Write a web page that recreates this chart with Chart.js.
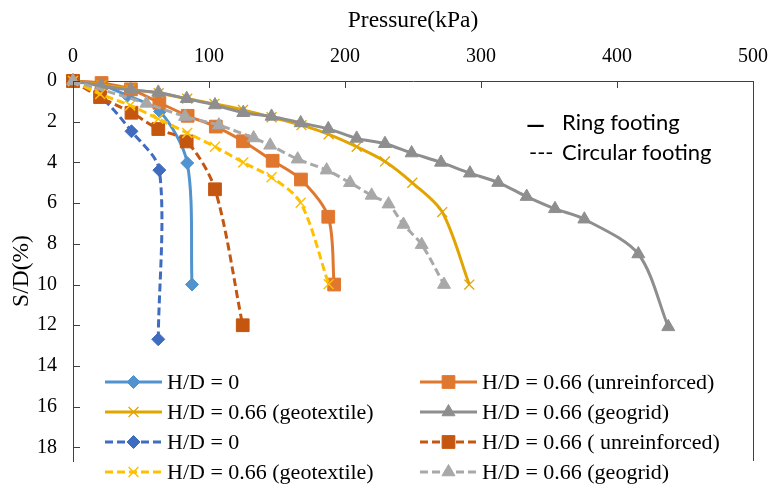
<!DOCTYPE html>
<html>
<head>
<meta charset="utf-8">
<script src="https://cdn.jsdelivr.net/npm/chart.js@4.4.0/dist/chart.umd.min.js"></script>
<style>
  html, body { margin: 0; padding: 0; background: #fff; }
  #wrap { width: 784px; height: 489px; position: relative; }
</style>
</head>
<body>
<div id="wrap"><canvas id="chart"></canvas></div>
<script>
// pressure (kPa) and S/D (%), one pair per curve
const ringH0P = [0, 21, 40, 64, 84, 87.5];
const ringH0S = [0, 0.2, 0.72, 1.5, 4.03, 10];

const ringUnrP = [0, 21, 42.6, 63.5, 84.3, 105, 125, 146.8, 167.6, 187.7, 192];
const ringUnrS = [0, 0.1, 0.41, 1.07, 1.71, 2.24, 2.96, 3.92, 4.84, 6.67, 10];

const ringTexP = [0, 21, 42, 63, 84, 104, 125, 146, 168, 188, 208.6, 229.4, 249.5, 271.5, 291.4];
const ringTexS = [0, 0.2, 0.4, 0.6, 0.87, 1.12, 1.42, 1.78, 2.17, 2.62, 3.23, 3.95, 5.0, 6.44, 10];

const ringGridP = [0, 20.6, 42.6, 62.7, 83.6, 104.4, 125.2, 146, 167.4, 187.7, 208.6, 229.4, 249, 270.6, 291.9, 312.7, 333.6, 354.4, 376, 415.7, 437.7];
const ringGridS = [0, 0.23, 0.44, 0.56, 0.87, 1.18, 1.56, 1.74, 2.06, 2.35, 2.82, 3.08, 3.54, 4.0, 4.53, 4.99, 5.68, 6.28, 6.79, 8.5, 12.08];

const circH0P = [0, 20, 43, 63.5, 62.7];
const circH0S = [0, 0.75, 2.47, 4.38, 12.69];

const circUnrP = [0, 19.9, 43, 62.7, 83.6, 104.4, 124.8];
const circUnrS = [0, 0.79, 1.56, 2.36, 2.97, 5.32, 12.0];

const circTexP = [0, 20, 42, 62.7, 84, 104.4, 125.2, 146, 167.4, 188];
const circTexS = [0, 0.64, 1.2, 1.86, 2.55, 3.23, 4.0, 4.73, 5.98, 9.98];

const circGridP = [0, 54, 82.4, 107.3, 132.8, 145, 165.2, 186.5, 203.7, 219.6, 232, 243, 256.4, 272.8];
const circGridS = [0, 1.1, 1.75, 2.17, 2.8, 3.16, 3.84, 4.38, 5.0, 5.62, 6.05, 7.05, 8.04, 10];

const seriesLabels = [
    'H/D = 0', 'H/D = 0.66 (unreinforced)',
    'H/D = 0.66 (geotextile)', 'H/D = 0.66 (geogrid)',
    'H/D = 0', 'H/D = 0.66 ( unreinforced)',
    'H/D = 0.66 (geotextile)', 'H/D = 0.66 (geogrid)'
];
const xTicks = [0, 100, 200, 300, 400, 500];
const yTicks = [0, 2, 4, 6, 8, 10, 12, 14, 16, 18];

const SERIF = "'Liberation Serif', 'Times New Roman', serif";

function pts(p, s) {
    return p.map((v, i) => ({ x: v, y: s[i] }));
}

function series(i, p, s, color, style, radius, dashed, markerWidth) {
    return {
        label: seriesLabels[i],
        data: pts(p, s),
        borderColor: color,
        backgroundColor: color,
        borderWidth: 3,
        borderDash: dashed ? [8, 4] : [],
        tension: 0.3,
        pointStyle: style,
        pointRadius: radius,
        pointHoverRadius: radius,
        pointBackgroundColor: color,
        pointBorderColor: color,
        pointBorderWidth: markerWidth,
        showLine: true,
        clip: false,
        order: -i
    };
}

const datasets = [
    series(0, ringH0P, ringH0S, '#5093CF', 'rectRot', 6.5, false, 1),
    series(1, ringUnrP, ringUnrS, '#E0772F', 'rect', 9, false, 1),
    series(2, ringTexP, ringTexS, '#E2A400', 'crossRot', 7, false, 1.3),
    series(3, ringGridP, ringGridS, '#8E8E8E', 'triangle', 7.5, false, 1),
    series(4, circH0P, circH0S, '#3F6CBF', 'rectRot', 6.5, true, 1),
    series(5, circUnrP, circUnrS, '#C5560F', 'rect', 9, true, 1),
    series(6, circTexP, circTexS, '#FFC000', 'crossRot', 7, true, 1.5),
    series(7, circGridP, circGridS, '#A8A8A8', 'triangle', 7.5, true, 1)
];

// inward tick marks, right frame, two-column legend and footing note
const extras = {
    id: 'extras',
    afterDraw(chart) {
        const { ctx, chartArea: a, scales: { x, y } } = chart;
        ctx.save();
        ctx.strokeStyle = '#404040';
        ctx.lineWidth = 1;
        ctx.setLineDash([]);
        ctx.beginPath();
        ctx.moveTo(a.right + 0.5, a.top);
        ctx.lineTo(a.right + 0.5, a.bottom);
        xTicks.forEach(v => {
            const px = Math.round(x.getPixelForValue(v)) + 0.5;
            ctx.moveTo(px, a.top);
            ctx.lineTo(px, a.top + 7);
        });
        yTicks.forEach(v => {
            const py = Math.round(y.getPixelForValue(v)) + 0.5;
            ctx.moveTo(a.left, py);
            ctx.lineTo(a.left + 7, py);
        });
        ctx.stroke();

        chart.data.datasets.forEach((ds, i) => {
            const lx = i % 2 === 0 ? 105 : 420;
            const ly = 382 + Math.floor(i / 2) * 30;
            ctx.strokeStyle = ds.borderColor;
            ctx.lineWidth = ds.borderWidth;
            ctx.setLineDash(ds.borderDash);
            ctx.beginPath();
            ctx.moveTo(lx, ly);
            ctx.lineTo(lx + 57, ly);
            ctx.stroke();
            ctx.setLineDash([]);
            ctx.fillStyle = ds.pointBackgroundColor;
            ctx.strokeStyle = ds.pointBorderColor;
            ctx.lineWidth = ds.pointBorderWidth;
            Chart.helpers.drawPoint(ctx, {
                pointStyle: ds.pointStyle, rotation: 0,
                radius: ds.pointRadius, borderWidth: ds.pointBorderWidth
            }, lx + 28.5, ly);
            ctx.fillStyle = '#000';
            ctx.font = '22px ' + SERIF;
            ctx.textBaseline = 'middle';
            ctx.textAlign = 'left';
            ctx.fillText(ds.label, lx + 62, ly + 1);
        });

        ctx.fillStyle = '#000';
        ctx.textBaseline = 'middle';
        ctx.font = 'bold 24px Lato';
        ctx.fillText('\u2014', 526, 125);
        ctx.font = '22px Lato';
        ctx.fillText('Ring footing', 562, 123);
        ctx.fillText('---', 529, 153);
        ctx.fillText('Circular footing', 562, 153);
        ctx.restore();
    }
};

new Chart(document.getElementById('chart'), {
    type: 'scatter',
    data: { datasets },
    options: {
        responsive: true,
        maintainAspectRatio: false,
        animation: false,
        layout: { padding: { left: 0, top: 0, right: 31, bottom: 0 } },
        scales: {
            x: {
                type: 'linear',
                position: 'top',
                min: 0,
                max: 500,
                afterFit: s => { s.height = 81; },
                afterBuildTicks: s => { s.ticks = xTicks.map(v => ({ value: v })); },
                grid: { drawOnChartArea: false, drawTicks: false },
                border: { display: true, color: '#404040', width: 1 },
                ticks: { padding: 12, color: '#000', font: { family: SERIF, size: 20 } },
                title: {
                    display: true,
                    text: 'Pressure(kPa)',
                    color: '#000',
                    font: { family: SERIF, size: 23.5 },
                    padding: { top: 7, bottom: 0 }
                }
            },
            y: {
                type: 'linear',
                reverse: true,
                min: 0,
                max: 18.67,
                afterFit: s => { s.width = 73; },
                afterBuildTicks: s => { s.ticks = yTicks.map(v => ({ value: v })); },
                grid: { drawOnChartArea: false, drawTicks: false },
                border: { display: true, color: '#404040', width: 1 },
                ticks: { padding: 16, color: '#000', font: { family: SERIF, size: 20 } },
                title: {
                    display: true,
                    text: 'S/D(%)',
                    color: '#000',
                    font: { family: SERIF, size: 23.5 },
                    padding: { top: 8, bottom: 0 }
                }
            }
        },
        plugins: {
            legend: { display: false },
            tooltip: { enabled: false }
        }
    },
    plugins: [extras]
});
</script>
</body>
</html>
